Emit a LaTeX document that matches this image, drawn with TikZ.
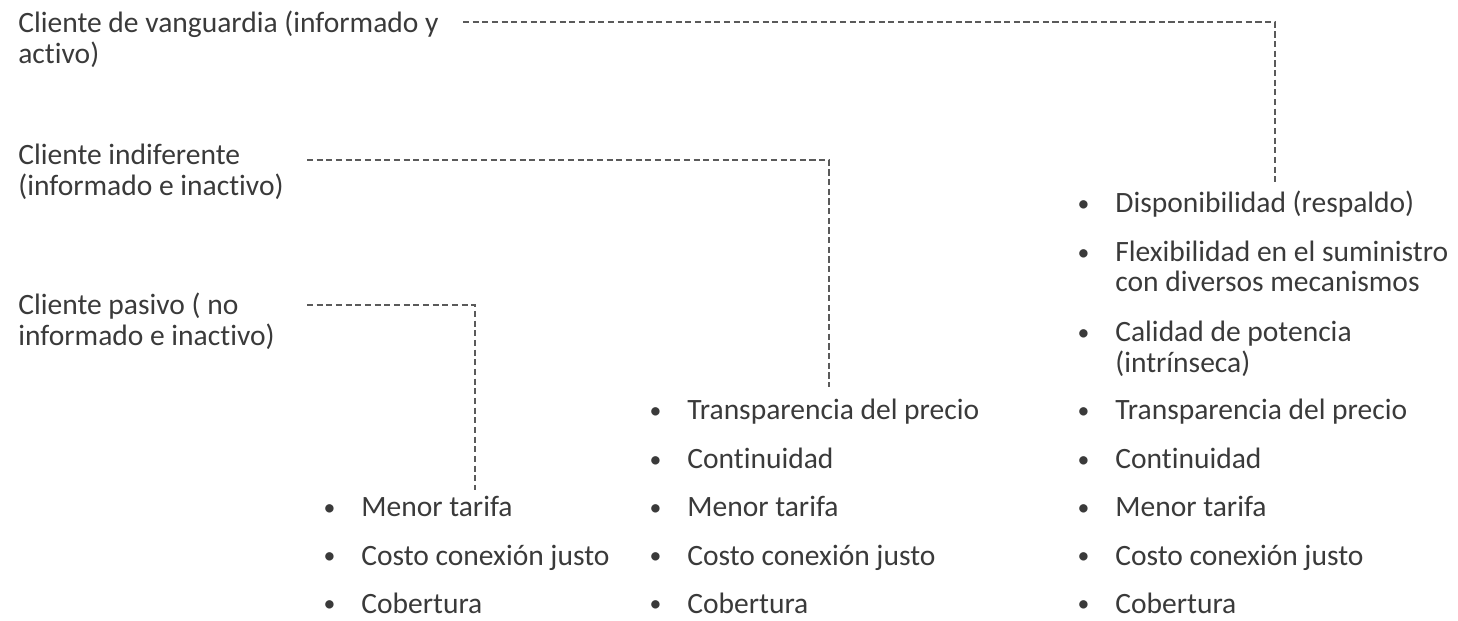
\documentclass[tikz,border=0pt]{standalone}
\usepackage{fontspec}
\setmainfont{Carlito}[Ligatures=NoCommon]
\usetikzlibrary{positioning}
\definecolor{ink}{HTML}{3A3A3A}
\definecolor{dashgray}{HTML}{5A5A5A}
\newcommand{\twoline}[2]{\begin{tabular}[t]{@{}l@{}}#1\\#2\end{tabular}}
\newcommand{\smallbullet}{\raisebox{1.1pt}{\fontsize{13.5}{13.5}\selectfont\textbullet}}

\begin{document}
\begin{tikzpicture}[x=0.02cm,y=-0.02cm]
        \tikzset{client/.style = {anchor=base west,inner sep=0pt,text=ink,font=\fontsize{16.8}{16.8}\selectfont}};
        \tikzset{point/.style = {client,execute at begin node={\llap{\smallbullet\hspace{0.52cm}}}}};
        \tikzset{link/.style = {draw=dashgray,line width=0.9pt,dash pattern=on 3.5pt off 2pt}};
        \useasboundingbox (0,0) rectangle (1458,621);
        % tipos de cliente
        \node[client] (vanguardia) at (18,33) {\twoline{Cliente de vanguardia (informado y}{activo)}};
        \node[client] (indiferente) at (18,165) {\twoline{Cliente indiferente}{(informado e inactivo)}};
        \node[client] (pasivo) at (18,315) {\twoline{Cliente pasivo ( no}{informado e inactivo)}};
        % atributos, cliente pasivo
        \node[point] (menorA) at (361,517) {Menor tarifa};
        \node[point] (costoA) at (361,565) {Costo conexión justo};
        \node[point] (coberA) at (361,613) {Cobertura};
        % atributos, cliente indiferente
        \node[point] (transpB) at (687,420) {Transparencia del precio};
        \node[point] (contB) at (687,469) {Continuidad};
        \node[point] (menorB) at (687,517) {Menor tarifa};
        \node[point] (costoB) at (687,565) {Costo conexión justo};
        \node[point] (coberB) at (687,613) {Cobertura};
        % atributos, cliente de vanguardia
        \node[point] (dispo) at (1115,213) {Disponibilidad (respaldo)};
        \node[point] (flexi) at (1115,262) {\twoline{Flexibilidad en el suministro}{con diversos mecanismos}};
        \node[point] (calidad) at (1115,342) {\twoline{Calidad de potencia}{(intrínseca)}};
        \node[point] (transpC) at (1115,420) {Transparencia del precio};
        \node[point] (contC) at (1115,469) {Continuidad};
        \node[point] (menorC) at (1115,517) {Menor tarifa};
        \node[point] (costoC) at (1115,565) {Costo conexión justo};
        \node[point] (coberC) at (1115,613) {Cobertura};
        % lineas punteadas
        \coordinate (vanguardia-out) at (463,22);
        \coordinate (vanguardia-in) at (1275,183);
        \coordinate (indiferente-out) at (307,160);
        \coordinate (indiferente-in) at (829,387);
        \coordinate (pasivo-out) at (307,305);
        \coordinate (pasivo-in) at (475,490);
        \draw[link] (vanguardia-out) -| (vanguardia-in);
        \draw[link] (indiferente-out) -| (indiferente-in);
        \draw[link] (pasivo-out) -| (pasivo-in);
    \end{tikzpicture}
\end{document}
